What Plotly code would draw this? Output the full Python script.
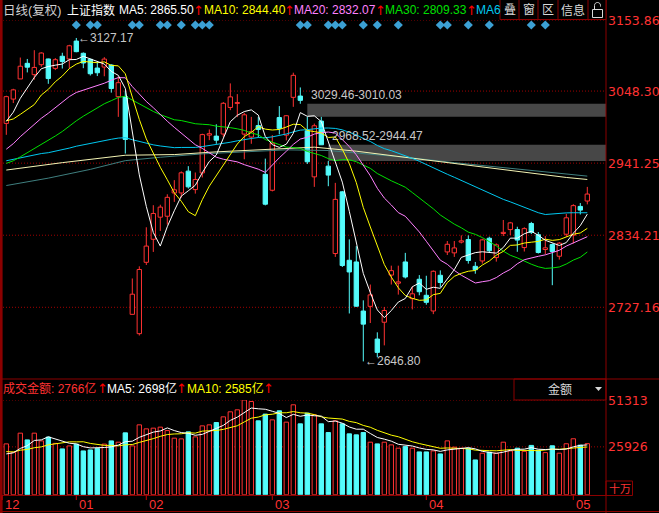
import plotly.graph_objects as go

W, H = 659, 513

# ---------------- data ----------------
# closes of the 59 sessions before the first plotted bar (feed the moving averages)
prior_closes = [2913, 2924, 2947, 2973, 3007, 2991, 2978, 2977, 2938, 2939,
                2954, 2941, 2940, 2954, 2980, 2955, 2939, 2929, 2958, 2975,
                2991, 2978, 2978, 2964, 2909, 2914, 2905, 2909, 2891, 2909,
                2933.99, 2911.05, 2903.64, 2885.29, 2906.17, 2907.06, 2903.19, 2889.69, 2871.98,
                2875.81, 2884.70, 2878.12, 2899.47, 2912.01, 2914.48, 2917.32, 2924.42, 2915.70,
                2967.68, 2984.39, 3022.42, 3017.04, 3017.07, 3004.94, 2962.75, 2982.68, 2981.88,
                3007.35, 3005.04]

opens = [3000.3, 3036.4, 3066.3, 3089.5, 3072.7, 3087.5, 3096.0, 3082.0, 3100.0, 3096.0,
         3122.6, 3104.4, 3095.4, 3082.5, 3084.0, 3087.0, 3040.0, 3040.0, 2716.7, 2688.0,
         2794.0, 2828.2, 2861.0, 2862.4, 2897.0, 2897.0, 2929.4, 2902.0, 2926.8, 2982.9,
         2981.4, 2984.5, 3024.0, 3030.0, 2984.4, 2980.0, 2997.0, 2924.6, 2901.0, 3009.0,
         2982.9, 3039.0, 3040.9, 2989.3, 2920.9, 3003.7, 2936.8, 2807.0, 2898.6, 2797.0,
         2794.5, 2721.6, 2728.6, 2680.0, 2705.0, 2775.0, 2763.0, 2794.5, 2740.0, 2768.8,
         2745.0, 2721.7, 2774.7, 2809.4, 2808.0, 2824.0, 2827.8, 2788.0, 2796.0, 2829.7,
         2801.0, 2836.8, 2842.6, 2842.6, 2815.9, 2851.6, 2835.0, 2813.0, 2820.4, 2803.0,
         2835.7, 2834.2, 2877.0, 2885.0]

highs = [3041.4, 3051.7, 3098.1, 3096.0, 3109.0, 3105.9, 3096.5, 3097.3, 3105.2, 3117.0,
         3127.17, 3105.7, 3096.2, 3091.6, 3098.7, 3088.0, 3070.0, 3048.9, 2770.0, 2788.0,
         2846.0, 2878.8, 2879.5, 2895.0, 2916.0, 2929.0, 2936.8, 2927.4, 2985.0, 2991.3,
         2999.0, 3032.0, 3059.7, 3043.8, 3016.0, 3010.0, 3010.0, 2948.0, 2982.9, 3026.0,
         3012.6, 3075.6, 3053.7, 3010.03, 3000.0, 3010.0, 2944.47, 2912.0, 2900.0, 2828.0,
         2818.0, 2737.5, 2761.0, 2690.0, 2727.6, 2789.0, 2789.0, 2808.0, 2758.0, 2775.0,
         2774.0, 2782.0, 2782.0, 2825.6, 2825.6, 2834.0, 2834.0, 2794.5, 2829.0, 2832.0,
         2822.0, 2856.8, 2854.0, 2846.8, 2846.0, 2854.0, 2839.0, 2833.0, 2822.0, 2824.0,
         2866.0, 2880.3, 2882.0, 2906.0]

lows = [2983.3, 3030.5, 3066.3, 3076.0, 3065.3, 3084.3, 3059.1, 3079.5, 3081.8, 3082.0,
        3106.0, 3082.3, 3071.4, 3070.6, 3070.3, 3046.0, 3010.0, 2955.5, 2716.7, 2685.27,
        2790.0, 2809.4, 2840.6, 2850.0, 2883.7, 2890.0, 2903.6, 2896.0, 2920.0, 2975.4,
        2970.0, 2980.0, 3020.0, 3009.6, 2947.0, 2970.0, 2979.0, 2878.5, 2899.3, 2984.0,
        2975.0, 3024.9, 3029.46, 2940.0, 2906.0, 2968.52, 2907.0, 2802.0, 2787.0, 2718.0,
        2728.0, 2646.80, 2703.8, 2653.0, 2670.6, 2761.0, 2746.0, 2770.0, 2724.0, 2745.0,
        2731.0, 2717.0, 2757.0, 2804.8, 2802.0, 2822.0, 2792.0, 2777.0, 2792.0, 2809.0,
        2795.0, 2833.0, 2834.5, 2809.6, 2810.0, 2836.0, 2807.0, 2806.0, 2760.0, 2798.0,
        2832.0, 2822.0, 2865.0, 2880.0]

closes = [3040.02, 3050.12, 3085.20, 3083.79, 3083.41, 3104.80, 3066.89, 3094.88, 3092.29, 3115.57,
          3106.82, 3090.04, 3074.08, 3075.50, 3095.79, 3052.14, 3060.75, 2976.53, 2746.61, 2783.29,
          2818.09, 2866.51, 2875.96, 2890.49, 2901.67, 2926.90, 2906.07, 2917.01, 2983.62, 2984.97,
          2975.40, 3030.15, 3039.67, 3031.23, 3013.05, 2987.93, 2991.33, 2880.30, 2970.93, 2992.90,
          3011.67, 3071.68, 3034.51, 2943.29, 2996.76, 2968.52, 2923.49, 2887.43, 2789.25, 2779.64,
          2728.76, 2702.13, 2745.62, 2660.17, 2722.44, 2781.59, 2764.91, 2772.20, 2747.21, 2750.30,
          2734.52, 2780.64, 2763.99, 2820.76, 2815.37, 2825.90, 2796.63, 2783.05, 2827.28, 2811.17,
          2819.94, 2838.49, 2852.55, 2827.01, 2843.98, 2838.50, 2808.53, 2815.49, 2810.02, 2822.44,
          2860.08, 2878.14, 2871.52, 2895.34]

# turnover per session, in units of 10 million yuan (10 units = 1 亿)
prior_volumes = [24800, 23900, 25600, 24100, 24600, 20100, 21400, 22300, 19170]
volumes = [27530, 23020, 33340, 29700, 33340, 29160, 31220, 27800, 24820, 26440,
           27370, 23730, 24270, 25090, 27420, 29160, 28450, 33500, 26440, 37850,
           35680, 36060, 36600, 34750, 30630, 30250, 34050, 31330, 37300, 37850,
           39100, 42190, 44910, 45990, 51313, 50500, 40020, 43660, 40560, 45450,
           39310, 48710, 38390, 44200, 43280, 38390, 33670, 40020, 38390, 32960,
           32420, 33670, 28450, 27530, 28450, 26990, 25200, 26060, 25200, 23190,
           23190, 23730, 22100, 29160, 25740, 25200, 25200, 18840, 22480, 23020,
           22480, 28450, 23730, 25200, 23500, 26700, 24100, 22800, 26500, 22500,
           27600, 30300, 26840, 27660]
UNITS_PER_YI = 10

# long averages (120 / 250 sessions), sampled along the chart
ma120_at = [0, 8, 17, 24, 30, 38, 44, 50, 56, 62, 68, 74, 80, 83]
ma120_val = [2931, 2942, 2953, 2954, 2958, 2962, 2965, 2959, 2951, 2943, 2935, 2928, 2920, 2917]
ma250_at = [0, 6, 12, 17, 22, 28, 34, 40, 46, 52, 58, 64, 70, 76, 83]
ma250_val = [2908, 2919, 2932, 2945, 2950, 2955, 2958, 2961, 2960, 2955, 2949, 2942, 2936, 2929, 2922]

signal_bars = [10, 12, 13, 18, 19, 22, 23, 25, 27, 28, 29, 42, 43, 46, 47, 48,
               51, 53, 56, 62, 63, 66, 69, 75, 77]
gap_bars = [43, 46]          # bars that opened below the previous session's low

month_pos = [-0.6, 10, 20, 38, 60, 81]
month_labels = ["12", "01", "02", "03", "04", "05"]
price_ticks = [3153.86, 3048.30, 2941.25, 2834.21, 2727.16]
volume_ticks = [51313, 25926]

# ---------------- styling ----------------
FONT = "Liberation Sans, Noto Sans CJK SC, DejaVu Sans"
AXFONT = "DejaVu Sans"
ARROWFONT = "DejaVu Sans"
RED = "#ff3232"
CYAN = "#54fcfc"
FRAME = "#8c0000"
GRID = "#a00000"
GREY = "#c8c8c8"


def px(x):
    return x / W


def py(y):
    return 1 - y / H


def sma(values, prior, n):
    full = list(prior) + list(values)
    k = len(prior)
    return [sum(full[k + i - n + 1:k + i + 1]) / n for i in range(len(values))]


n = len(closes)
idx = list(range(n))
X_MIN, X_MAX = -0.514, 85.67

# price axis: top tick sits at y=20px, bottom tick at y=307.3px
P_TOP_PX, P_BOT_TICK_PX, PANE_BOTTOM_PX = 20, 307.3, 379
per_px = (price_ticks[0] - price_ticks[-1]) / (P_BOT_TICK_PX - P_TOP_PX)
y_top = price_ticks[0]
y_bot = y_top - (PANE_BOTTOM_PX - P_TOP_PX) * per_px

up = [c >= o for o, c in zip(opens, closes)]

fig = go.Figure()

# candle bodies
fig.add_trace(go.Bar(
    x=idx, y=[max(abs(c - o), 0.6) for o, c in zip(opens, closes)],
    base=[min(o, c) for o, c in zip(opens, closes)], width=0.62,
    marker=dict(color=["#000000" if u else CYAN for u in up],
                line=dict(color=[RED if u else CYAN for u in up], width=1)),
    hoverinfo="skip"))


def wick_xy(flag):
    xs, ys = [], []
    for i in range(n):
        if up[i] != flag:
            continue
        top, bot = max(opens[i], closes[i]), min(opens[i], closes[i])
        xs += [i, i, None, i, i, None]
        ys += [highs[i], top, None, bot, lows[i], None]
    return xs, ys


for flag, col in ((True, RED), (False, CYAN)):
    wx, wy = wick_xy(flag)
    fig.add_trace(go.Scatter(x=wx, y=wy, mode="lines", line=dict(color=col, width=1),
                             hoverinfo="skip"))

# moving averages
fig.add_trace(go.Scatter(x=ma250_at, y=ma250_val, mode="lines",
                         line=dict(color="#3f7f7f", width=1), hoverinfo="skip"))
fig.add_trace(go.Scatter(x=ma120_at, y=ma120_val, mode="lines",
                         line=dict(color="#f4f4b4", width=1), hoverinfo="skip"))
ma_specs = [(60, "#00c8f0"), (30, "#00e000"), (20, "#ff80ff"), (10, "#ffff00"), (5, "#ffffff")]
ma = {}
for period, col in ma_specs:
    ma[period] = sma(closes, prior_closes, period)
    fig.add_trace(go.Scatter(x=idx, y=ma[period], mode="lines",
                             line=dict(color=col, width=1), hoverinfo="skip"))

# signal diamonds under the header
fig.add_trace(go.Scatter(x=signal_bars, y=[y_top - 5 * per_px] * len(signal_bars), mode="markers",
                         marker=dict(symbol="diamond", size=7, color="#3ca0d4"),
                         hoverinfo="skip", cliponaxis=False))

# turnover pane
fig.add_trace(go.Bar(
    x=idx, y=volumes, width=0.62, xaxis="x2", yaxis="y2",
    marker=dict(color=["#000000" if u else CYAN for u in up],
                line=dict(color=[RED if u else CYAN for u in up], width=1)),
    hoverinfo="skip"))
vma5 = sma(volumes, prior_volumes, 5)
vma10 = sma(volumes, prior_volumes, 10)
fig.add_trace(go.Scatter(x=idx, y=vma10, mode="lines", xaxis="x2", yaxis="y2",
                         line=dict(color="#ffff00", width=1), hoverinfo="skip"))
fig.add_trace(go.Scatter(x=idx, y=vma5, mode="lines", xaxis="x2", yaxis="y2",
                         line=dict(color="#ffffff", width=1), hoverinfo="skip"))

shapes = []
ann = []


def hline(y, x0, x1, color=FRAME, width=1, dash="solid"):
    shapes.append(dict(type="line", xref="paper", yref="paper", x0=px(x0), x1=px(x1),
                       y0=py(y), y1=py(y), line=dict(color=color, width=width, dash=dash)))


def vline(x, y0, y1, color=FRAME, width=1):
    shapes.append(dict(type="line", xref="paper", yref="paper", x0=px(x), x1=px(x),
                       y0=py(y0), y1=py(y1), line=dict(color=color, width=width)))


def rect(x0, y0, x1, y1, color=FRAME, fill="rgba(0,0,0,0)"):
    shapes.append(dict(type="rect", xref="paper", yref="paper", x0=px(x0), x1=px(x1),
                       y0=py(y1), y1=py(y0), line=dict(color=color, width=1), fillcolor=fill))


def text(t, x, y, color, size=12, family=FONT, xanchor="left"):
    ann.append(dict(text=t, x=px(x), y=py(y), xref="paper", yref="paper", xanchor=xanchor,
                    yanchor="middle", showarrow=False, borderpad=0,
                    font=dict(color=color, size=size, family=family)))


def arrow_text(series, x, y):
    glyph = "↑" if series[-1] >= series[-2] else "↓"
    text(glyph, x, y, "#ff0000", size=13, family=ARROWFONT)


# dotted grid lines and right-hand labels
for v in price_ticks:
    shapes.append(dict(type="line", xref="paper", yref="y", x0=px(3), x1=px(606), y0=v, y1=v,
                       layer="below", line=dict(color=GRID, width=1, dash="1px,2px")))
    ann.append(dict(text=f"{v:.2f}", x=px(607), y=v, xref="paper", yref="y", xanchor="left",
                    yanchor="middle", showarrow=False, borderpad=0,
                    font=dict(color=RED, size=12.5, family=AXFONT)))
for v in volume_ticks:
    shapes.append(dict(type="line", xref="paper", yref="y2", x0=px(3), x1=px(606), y0=v, y1=v,
                       layer="below", line=dict(color=GRID, width=1, dash="1px,2px")))
    ann.append(dict(text=f"{v}", x=px(607), y=v, xref="paper", yref="y2", xanchor="left",
                    yanchor="middle", showarrow=False, borderpad=0,
                    font=dict(color=RED, size=12.5, family=AXFONT)))

# unfilled gaps: grey band from the gap bar to the right edge
for g in gap_bars:
    hi_edge, lo_edge = lows[g - 1], highs[g]
    shapes.append(dict(type="rect", xref="x", yref="y", x0=g, x1=X_MAX, y0=lo_edge, y1=hi_edge,
                       layer="below", fillcolor="#474747", line=dict(width=0)))
    ann.append(dict(text=f"{hi_edge:.2f}-{lo_edge:.2f}", x=g, y=hi_edge, xref="x", yref="y",
                    xanchor="left", yanchor="bottom", xshift=3, yshift=1, showarrow=False,
                    borderpad=0, font=dict(color=GREY, size=12, family=FONT)))

# extreme markers
hi_i = max(range(n), key=lambda i: highs[i])
lo_i = min(range(n), key=lambda i: lows[i])
for i, v in ((hi_i, highs[hi_i]), (lo_i, lows[lo_i])):
    ann.append(dict(text=f"←{v:.2f}", x=i, y=v, xref="x", yref="y", xanchor="left",
                    yanchor="middle", xshift=1, showarrow=False, borderpad=0,
                    font=dict(color=GREY, size=12, family=FONT)))

# frame
shapes.append(dict(type="rect", xref="paper", yref="paper", x0=0, x1=px(2.6), y0=0, y1=1,
                   fillcolor=FRAME, line=dict(width=0)))
vline(606, 0, 513)
hline(379, 0, 659)
hline(495.5, 0, 606)
hline(511.5, 0, 659)

# month ticks along the bottom
x_per_px = (X_MAX - X_MIN) / (606 - 2.7)
for pos, lab in zip(month_pos, month_labels):
    xp = 2.7 + (pos - X_MIN) / x_per_px
    vline(xp, 495.5, 500, color="#c00000")
    text(lab, xp + 1.5, 504.5, RED, size=13)

# header of the price pane
text("日线(复权)", 2, 10, "#d0d0d0", size=12.5)
text("上证指数", 66, 10, "#ffffff", size=12)
text(f"MA5: {ma[5][-1]:.2f}", 118, 10, "#ffffff")
arrow_text(ma[5], 192, 10)
text(f"MA10: {ma[10][-1]:.2f}", 203, 10, "#ffff00")
arrow_text(ma[10], 282.5, 10)
text(f"MA20: {ma[20][-1]:.2f}", 293, 10, "#ff80ff")
arrow_text(ma[20], 373.5, 10)
text(f"MA30: {ma[30][-1]:.2f}", 384, 10, "#00e000")
arrow_text(ma[30], 464.5, 10)
text("MA6", 475, 10, "#00c8f0")

# tool buttons
rect(500, -1, 606, 19.5, fill="#000000")
for xd in (519, 538, 558, 588):
    vline(xd, 0, 19.5)
for t, xc in (("叠", 509.5), ("窗", 528.5), ("区", 548), ("信息", 573)):
    text(t, xc, 10, "#d8d8d8", size=12, xanchor="center")
# open padlock
rect(592.5, 9.5, 602.5, 17.5, color="#d8d8d8")
shapes.append(dict(type="path", xref="paper", yref="paper",
                   path=f"M {px(594.5)} {py(9.5)} L {px(594.5)} {py(5.5)} "
                        f"C {px(594.5)} {py(1.5)} {px(600.5)} {py(1.5)} {px(600.5)} {py(5.5)} "
                        f"L {px(600.5)} {py(6.5)}",
                   line=dict(color="#d8d8d8", width=1)))

# header of the turnover pane
amt = volumes[-1] / UNITS_PER_YI
text(f"成交金额: {amt:.0f}亿", 2, 388.5, RED)
arrow_text(volumes, 96, 388.5)
text(f"MA5: {vma5[-1] / UNITS_PER_YI:.0f}亿", 106, 388.5, "#ffffff")
arrow_text(vma5, 175, 388.5)
text(f"MA10: {vma10[-1] / UNITS_PER_YI:.0f}亿", 186, 388.5, "#ffff00")
arrow_text(vma10, 262, 388.5)

rect(514, 379, 606, 400)
text("金额", 560, 389.5, "#d8d8d8", size=12, xanchor="center")
shapes.append(dict(type="path", xref="paper", yref="paper",
                   path=f"M {px(595)} {py(387)} L {px(602)} {py(387)} L {px(598.5)} {py(391)} Z",
                   fillcolor="#d8d8d8", line=dict(width=0)))

rect(606, 481, 632.5, 495.5)
text("十万", 619.5, 488.5, RED, size=11, xanchor="center")

fig.update_layout(
    width=W, height=H, margin=dict(l=0, r=0, t=0, b=0),
    paper_bgcolor="#000000", plot_bgcolor="#000000",
    showlegend=False, barmode="overlay", hovermode=False,
    xaxis=dict(domain=[px(2.7), px(606)], range=[X_MIN, X_MAX], visible=False, anchor="y"),
    yaxis=dict(domain=[py(PANE_BOTTOM_PX), py(P_TOP_PX)], range=[y_bot, y_top], visible=False,
               anchor="x"),
    xaxis2=dict(domain=[px(2.7), px(606)], range=[X_MIN, X_MAX], visible=False, anchor="y2"),
    yaxis2=dict(domain=[py(494.7), py(400)], range=[0, volume_ticks[0]], visible=False,
                anchor="x2"),
    shapes=shapes, annotations=ann,
)

fig.write_html("out.html")
